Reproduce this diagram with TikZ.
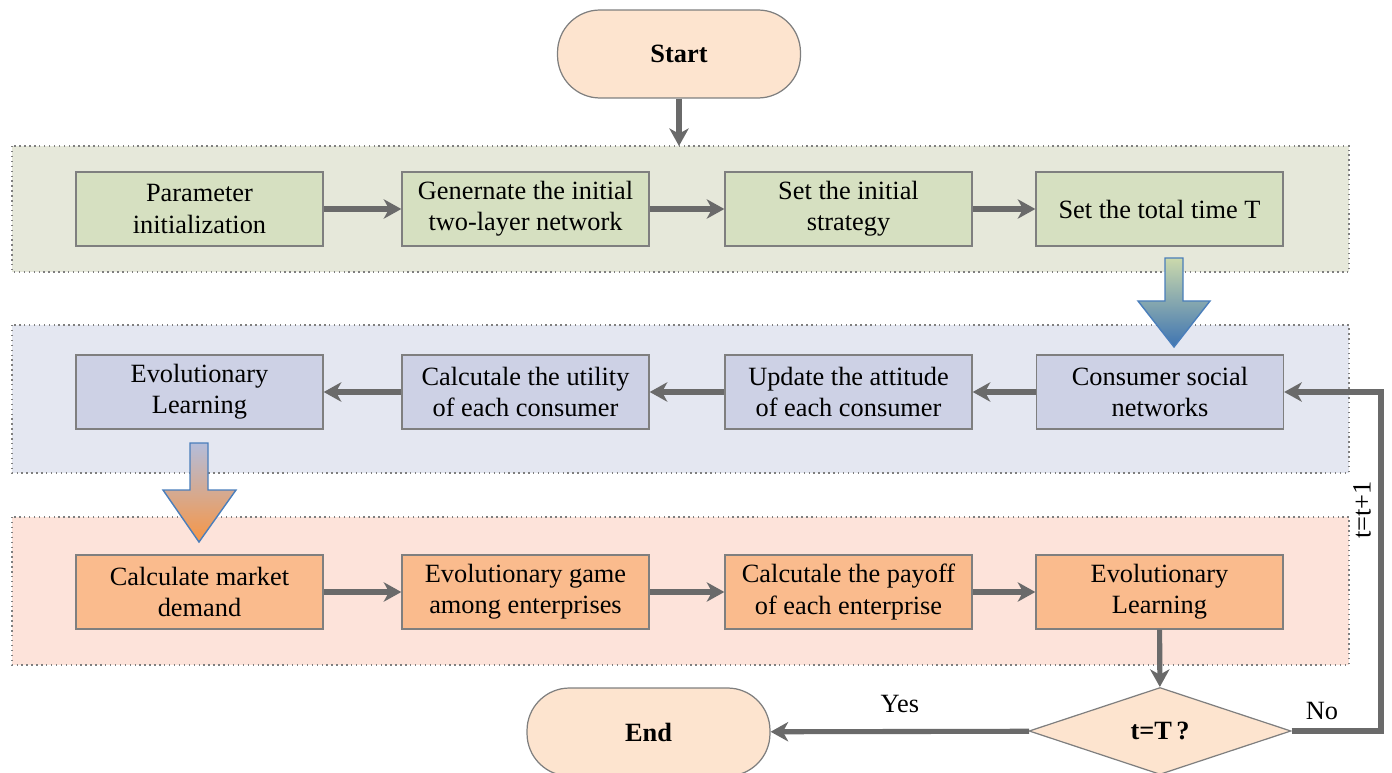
\documentclass[tikz,border=0pt]{standalone}
\usepackage{fontspec}
\setmainfont{Liberation Serif}
\usetikzlibrary{arrows.meta,shapes.geometric}
\definecolor{peach}{HTML}{FDE4CF}
\definecolor{grpA}{HTML}{E6E8DA}
\definecolor{boxA}{HTML}{D6E0C1}
\definecolor{grpB}{HTML}{E4E7F1}
\definecolor{boxB}{HTML}{CDD1E5}
\definecolor{grpC}{HTML}{FDE3DA}
\definecolor{boxC}{HTML}{FABB8D}
\definecolor{edge}{HTML}{7F7F7F}
\definecolor{arr}{HTML}{6A6A6A}
\definecolor{bluearr}{HTML}{3E74B2}
\definecolor{bluebd}{HTML}{4A7EBB}
\definecolor{greentop}{HTML}{CBD9AC}
\definecolor{graytop}{HTML}{B4BDDA}
\definecolor{orangebot}{HTML}{F79646}
\tikzset{
  every node/.style={font=\fontsize{15}{17.8}\selectfont},
  group/.style={draw=edge, dotted, line width=0.8pt},
  procbox/.style={draw=edge, line width=0.8pt, minimum width=4.94cm, minimum height=1.48cm, align=center, inner sep=2pt},
  termbox/.style={draw=edge, line width=0.7pt, fill=peach, rounded corners=0.85cm, minimum width=4.86cm, minimum height=1.76cm, font=\fontsize{15}{18}\selectfont\bfseries},
  flow/.style={draw=arr, line width=2.9pt, -{Stealth[length=10pt, width=11pt, inset=3pt]}},
  bigarrow/.style={draw=bluebd, line width=0.8pt}
}
\begin{document}
\begin{tikzpicture}[x=0.02cm, y=-0.02cm]
\clip (0,0) rectangle (1392,773);
\useasboundingbox (0,0) rectangle (1392,773);
% groups
\fill[grpA] (12,146) rectangle (1349,272);
\draw[group] (12,146) rectangle (1349,272);
\fill[grpB] (12,325) rectangle (1349,473);
\draw[group] (12,325) rectangle (1349,473);
\fill[grpC] (12,517) rectangle (1349,665);
\draw[group] (12,517) rectangle (1349,665);
% start
\node[termbox] (start) at (679,54) {Start};
% row 1
\node[procbox, fill=boxA] (a1) at (199.5,209) {Parameter\\initialization};
\node[procbox, fill=boxA] (a2) at (525.5,209) {Genernate the initial\\two-layer network};
\node[procbox, fill=boxA] (a3) at (848.5,209) {Set the initial\\strategy};
\node[procbox, fill=boxA] (a4) at (1159.5,209) {Set the total time T};
% row 2
\node[procbox, fill=boxB] (b1) at (199.5,392) {Evolutionary\\Learning};
\node[procbox, fill=boxB] (b2) at (525.5,392) {Calcutale the utility\\of each consumer};
\node[procbox, fill=boxB] (b3) at (848.5,392) {Update the attitude\\of each consumer};
\node[procbox, fill=boxB] (b4) at (1160,392) {Consumer social\\networks};
% row 3
\node[procbox, fill=boxC] (c1) at (199.5,592) {Calculate market\\demand};
\node[procbox, fill=boxC] (c2) at (525.5,592) {Evolutionary game\\among enterprises};
\node[procbox, fill=boxC] (c3) at (848.5,592) {Calcutale the payoff\\of each enterprise};
\node[procbox, fill=boxC] (c4) at (1159.5,592) {Evolutionary\\Learning};
% decision and end
\node[diamond, draw=edge, line width=0.7pt, fill=peach, minimum width=5.24cm, minimum height=1.74cm, inner sep=0pt, font=\fontsize{15}{18}\selectfont\bfseries] (dec) at (1160,731) {t=T\,?};
\node[termbox] (end) at (648.5,732) {End};
\coordinate (nocorner) at (1381,731);
% connectors
\draw[flow] (start.south) -- (start.south |- 0,146);
\draw[flow] (a1) -- (a2);
\draw[flow] (a2) -- (a3);
\draw[flow] (a3) -- (a4);
\draw[flow] (b4) -- (b3);
\draw[flow] (b3) -- (b2);
\draw[flow] (b2) -- (b1);
\draw[flow] (c1) -- (c2);
\draw[flow] (c2) -- (c3);
\draw[flow] (c3) -- (c4);
\draw[flow] (c4) -- (dec);
\draw[flow] (dec) -- node[above=6pt] {Yes} (end);
\draw[flow] (dec.east) -- (nocorner) |- (b4.east);
\node (nolab) at (1322,711) {No};
\node[rotate=90] (tlab) at (1362,510) {t=t+1};
% big gradient arrows
\shadedraw[bigarrow, top color=greentop, bottom color=bluearr]
  (1165,258) -- (1183,258) -- (1183,301) -- (1210,301) -- (1174,347) -- (1138,301) -- (1165,301) -- cycle;
\shadedraw[bigarrow, top color=graytop, bottom color=orangebot]
  (190,443) -- (208,443) -- (208,490) -- (236,490) -- (199,542) -- (163,490) -- (190,490) -- cycle;
\end{tikzpicture}
\end{document}
